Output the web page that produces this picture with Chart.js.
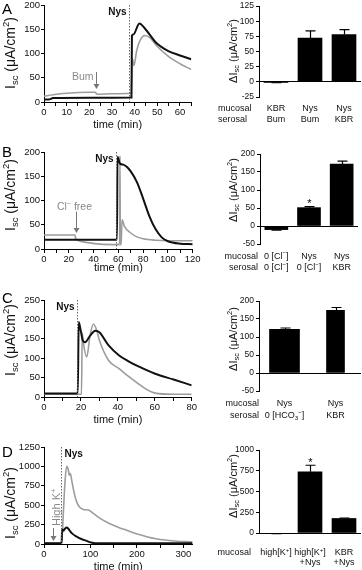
<!DOCTYPE html>
<html><head><meta charset="utf-8">
<script src="https://cdn.jsdelivr.net/npm/chart.js@4.4.0/dist/chart.umd.min.js"></script>
<style>
html,body{margin:0;padding:0;background:#fff;overflow:hidden;width:362px;height:570px}
#fig{position:relative;width:362px;height:570px;overflow:hidden}
canvas{position:absolute}
</style></head><body><div id="fig"></div>
<script>
// ================= DATA =================
// Panel A traces (time in min, Isc in uA/cm2)
const tA_black = [0, 2, 4, 20, 38.6, 38.8, 39.4, 42.1, 44.6, 49.7, 54.9, 60, 65];
const iA_black = [5, 5, 8, 9, 9.5, 137, 139, 162, 151, 121, 105, 96, 88];
const tA_gray  = [0, 4, 10, 20, 22.5, 23.5, 30, 38.5, 39, 39.7, 40.9, 42.4, 44.6, 46.8, 49.7, 54.9, 60, 65];
const iA_gray  = [12, 15, 18, 20, 20, 16, 17, 18, 89, 75, 106, 127, 137, 132, 116, 94, 79, 67];
const nysA = 37.6;
const arrowA = [22.8, 62, 27];           // time, from, to
// Panel A bars
const barA_mean = [-1, 72, 78];
const barA_sem  = [0.5, 12, 8];
const barA_mucosal = ['KBR', 'Nys', 'Nys'];
const barA_serosal = ['Bum', 'Bum', 'KBR'];

// Panel B traces
const tB_black = [0, 58.9, 59.3, 61.3, 64, 67, 70, 75, 80, 85, 90, 95, 100, 110, 120];
const iB_black = [19, 19, 190, 176, 174, 169, 160, 138, 104, 68, 41, 24, 16, 11, 10];
const tB_gray  = [0, 25, 25.5, 27.7, 34, 45, 61, 61.3, 61.6, 62.2, 63, 65, 70, 75, 80, 90, 100, 120];
const iB_gray  = [29, 29, 22.5, 17.7, 13.6, 10, 9, 192, 9, 9, 60, 46, 33, 25, 21, 18, 17, 17];
const nysB = 58;
const arrowB = [25.5, 77, 33];
// Panel B bars
const barB_mean = [-10, 51, 172];
const barB_sem  = [1.5, 3, 8];
const barB_mucosal = ['0 [Cl^{−}]', 'Nys', 'Nys'];
const barB_serosal = ['0 [Cl^{−}]', '0 [Cl^{−}]', 'KBR'];

// Panel C traces
const tC_black = [0, 18.3, 18.8, 19.9, 21, 22.2, 25, 27.7, 30, 35, 40.7, 45.8, 50.6, 60.2, 70.2, 80];
const iC_black = [9, 9, 193, 171, 146, 141, 158, 171, 167, 133, 107, 92, 80, 60, 45, 30];
const tC_gray  = [0, 20.3, 20.7, 21.3, 23.1, 25, 26.8, 28.6, 30, 35, 40.7, 45.8, 50.6, 55.7, 60.2, 70, 80];
const iC_gray  = [7, 7, 165, 140, 103, 160, 188, 171, 146, 94, 73, 53, 36, 19, 10, 7, 7];
const nysC = 17.7;
// Panel C bars
const barC_mean = [121, 174];
const barC_sem  = [4, 8];
const barC_mucosal = ['Nys', 'Nys'];
const barC_serosal = ['0 [HCO_{3}^{−}]', 'KBR'];

// Panel D traces
const tD_black = [0, 38, 38.8, 41.6, 45, 48.8, 52.4, 56, 60.3, 70.4, 80.4, 90.5, 100.5, 110, 320];
const iD_black = [9, 9, 188, 171, 197, 214, 197, 167, 137, 94, 64, 43, 21, 9, 9];
const tD_gray  = [0, 38, 41.6, 45, 48.8, 51.7, 54.6, 56.7, 60.3, 65.3, 70.4, 76, 84.7, 95.5, 106, 120.6, 140.7, 160.8, 181, 201, 221, 241, 261, 281, 301.5, 320];
const iD_gray  = [9, 10, 394, 779, 1000, 972, 886, 907, 800, 650, 543, 479, 445, 437, 394, 330, 265, 214, 171, 128, 94, 68, 51, 39, 30, 26];
const nysD = 36.6;
const arrowD = [20, 206, 39];
// Panel D bars
const barD_mean = [-6, 738, 175];
const barD_sem  = [2, 78, 6];
const barD_mucosal = ['high[K^{+}]', 'high[K^{+}]', 'KBR'];
const barD_row2    = ['', '+Nys', '+Nys'];

// Tick values
const ticksA_x = [0, 10, 20, 30, 40, 50, 60];
const ticksB_x = [0, 20, 40, 60, 80, 100, 120];
const ticksC_x = [0, 20, 40, 60, 80];
const ticksD_x = [0, 100, 200, 300];
const ticksA_y = [0, 50, 100, 150, 200];
const ticksB_y = [0, 50, 100, 150, 200];
const ticksC_y = [0, 50, 100, 150, 200, 250];
const ticksD_y = [0, 250, 500, 750, 1000, 1250];
const ticksAbar_y = [-25, 0, 25, 50, 75, 100, 125];
const ticksBbar_y = [-50, 0, 50, 100, 150, 200];
const ticksCbar_y = [-50, 0, 50, 100, 150, 200];
const ticksDbar_y = [0, 250, 500, 750, 1000];

// ================= DRAWING =================
const FONT = '"Liberation Sans", Arial, Helvetica, sans-serif';
const GRAYLINE = '#9c9c9c';
const GRAYTXT = '#8a8a8a';
Chart.defaults.font.family = FONT;
Chart.defaults.color = '#111';
const FIG = document.getElementById('fig');

function addCanvas(left, top, w, h) {
  const c = document.createElement('canvas');
  c.width = w; c.height = h;
  c.style.left = left + 'px'; c.style.top = top + 'px';
  c.style.width = w + 'px'; c.style.height = h + 'px';
  FIG.appendChild(c);
  return c;
}
function parseRich(s) {
  const out = []; const re = /([\^_])\{([^}]*)\}|([^\^_]+)/g; let m;
  while ((m = re.exec(s))) {
    if (m[3] !== undefined) out.push({t: m[3], k: 'n'});
    else out.push({t: m[2], k: m[1] === '^' ? 'sup' : 'sub'});
  }
  return out;
}
function richFont(k, size, weight) {
  const sz = k === 'n' ? size : size * 0.68;
  return (weight || 'normal') + ' ' + sz + 'px ' + FONT;
}
function drawRich(ctx, s, x, y, size, align, color, weight) {
  const segs = parseRich(s); let w = 0;
  segs.forEach(g => { ctx.font = richFont(g.k, size, weight); g.w = ctx.measureText(g.t).width; w += g.w; });
  let cx = align === 'center' ? x - w / 2 : align === 'right' ? x - w : x;
  const base = y + size * 0.35;
  ctx.fillStyle = color; ctx.textBaseline = 'alphabetic'; ctx.textAlign = 'left';
  segs.forEach(g => {
    ctx.font = richFont(g.k, size, weight);
    const dy = g.k === 'sup' ? -size * 0.4 : g.k === 'sub' ? size * 0.22 : 0;
    ctx.fillText(g.t, cx, base + dy); cx += g.w;
  });
  return w;
}
function measureRich(ctx, s, size) {
  let w = 0; parseRich(s).forEach(g => { ctx.font = richFont(g.k, size); w += ctx.measureText(g.t).width; });
  return w;
}
const toXY = (t, v) => t.map((x, i) => ({x: x, y: v[i]}));

function traceChart(p) {
  const padT = 10, top = p.T - padT, w = Math.ceil(p.R + 12), h = (p.B - p.T) + padT + p.padB;
  const cv = addCanvas(0, top, w, h);
  const allX = [];
  for (let v = 0; v <= p.xMax + 1e-9; v += p.xMinor) allX.push(Math.round(v * 1000) / 1000);
  const annot = {
    id: 'annot' + p.letter,
    afterDraw(chart) {
      const ctx = chart.ctx, xs = chart.scales.x, ys = chart.scales.y, ca = chart.chartArea;
      ctx.save();
      ctx.fillStyle = '#000'; ctx.font = '15px ' + FONT; ctx.textBaseline = 'middle'; ctx.textAlign = 'left';
      ctx.fillText(p.letter, 2, p.letterY - top);
      ctx.save(); ctx.translate(10, p.titleY - top); ctx.rotate(-Math.PI / 2);
      drawRich(ctx, 'I_{sc} (μA/cm^{2})', 0, 0, 14, 'center', '#111'); ctx.restore();
      // Nys dotted line
      const nx = Math.round(xs.getPixelForValue(p.nys)) + 0.5;
      ctx.strokeStyle = '#6a6a6a'; ctx.lineWidth = 1; ctx.setLineDash([1.5, 1.5]);
      ctx.beginPath(); ctx.moveTo(nx, ca.top); ctx.lineTo(nx, ca.bottom); ctx.stroke(); ctx.setLineDash([]);
      ctx.font = 'bold 10px ' + FONT; ctx.fillStyle = '#111'; ctx.textBaseline = 'middle';
      if (p.nysSide === 'left') { ctx.textAlign = 'right'; ctx.fillText('Nys', nx - 3, ca.top + 7); }
      else { ctx.textAlign = 'left'; ctx.fillText('Nys', nx + 3, ca.top + 7); }
      // arrow
      if (p.arrow) {
        const ax = Math.round(xs.getPixelForValue(p.arrow[0])) + 0.5;
        const y1 = ys.getPixelForValue(p.arrow[1]), y2 = ys.getPixelForValue(p.arrow[2]);
        ctx.strokeStyle = '#777'; ctx.fillStyle = '#777'; ctx.lineWidth = 1;
        ctx.beginPath(); ctx.moveTo(ax, y1); ctx.lineTo(ax, y2 - 4); ctx.stroke();
        ctx.beginPath(); ctx.moveTo(ax - 3, y2 - 5); ctx.lineTo(ax + 3, y2 - 5); ctx.lineTo(ax, y2); ctx.closePath(); ctx.fill();
        if (p.arrowMode === 'left') drawRich(ctx, p.arrowText, ax - 3, y1 + 4, 10.5, 'right', GRAYTXT);
        else if (p.arrowMode === 'above') drawRich(ctx, p.arrowText, ax - 2, y1 - 5, 10.5, 'center', GRAYTXT);
        else {
          const tw = measureRich(ctx, p.arrowText, 11);
          ctx.save(); ctx.translate(ax + 3, y1 - 2 - tw / 2); ctx.rotate(-Math.PI / 2);
          drawRich(ctx, p.arrowText, 0, 0, 11, 'center', GRAYTXT); ctx.restore();
        }
      }
      ctx.restore();
    }
  };
  new Chart(cv, {
    type: 'line',
    data: {datasets: [
      {data: toXY(p.black[0], p.black[1]), borderColor: '#111', borderWidth: 2, pointRadius: 0, cubicInterpolationMode: 'monotone', fill: false},
      {data: toXY(p.gray[0], p.gray[1]), borderColor: GRAYLINE, borderWidth: 1.6, pointRadius: 0, cubicInterpolationMode: 'monotone', fill: false}
    ]},
    options: {
      responsive: false, animation: false, devicePixelRatio: 1, events: [],
      layout: {padding: {left: 0, top: padT, right: w - p.R, bottom: 0}},
      plugins: {legend: {display: false}, tooltip: {enabled: false}},
      scales: {
        x: {type: 'linear', min: 0, max: p.xMax,
          afterBuildTicks: s => { s.ticks = allX.map(v => ({value: v})); },
          afterFit: s => { s.height = p.padB; },
          border: {display: true, color: '#000', width: 1},
          grid: {display: true, drawOnChartArea: false, drawTicks: true, tickLength: 4, tickColor: '#000', tickWidth: 1},
          ticks: {autoSkip: false, maxRotation: 0, padding: 1, font: {size: 9.5}, color: '#111',
            callback: v => p.xMajor.includes(v) ? String(v) : ''},
          title: {display: true, text: 'time (min)', font: {size: 11}, color: '#111', padding: {top: 0, bottom: 2}}
        },
        y: {type: 'linear', min: 0, max: p.yTicks[p.yTicks.length - 1],
          afterBuildTicks: s => { s.ticks = p.yTicks.map(v => ({value: v})); },
          afterFit: s => { s.width = p.L; },
          border: {display: true, color: '#000', width: 1},
          grid: {display: true, drawOnChartArea: false, drawTicks: true, tickLength: 3, tickColor: '#000', tickWidth: 1},
          ticks: {autoSkip: false, padding: 1, font: {size: 9.5}, color: '#111', callback: v => String(v)}
        }
      }
    },
    plugins: [annot]
  });
}

function barChart(p) {
  const left = 205, padT = 10, top = p.T - padT, w = 362 - left, h = (p.B - p.T) + padT + p.padB;
  const cv = addCanvas(left, top, w, h);
  const n = p.mean.length;
  const labels = p.mean.map((_, i) => String(i));
  const datasets = p.thick.map((th, j) => ({
    data: p.mean.map((v, i) => (p.thick.length === 1 || i === j) ? v : null),
    backgroundColor: '#000', borderWidth: 0, barThickness: th, clip: 6
  }));
  const annot = {
    id: 'bar' + p.letter,
    afterDraw(chart) {
      const ctx = chart.ctx, xs = chart.scales.x, ys = chart.scales.y, ca = chart.chartArea;
      ctx.save();
      ctx.save(); ctx.translate(233 - left, p.titleY - top); ctx.rotate(-Math.PI / 2);
      drawRich(ctx, 'ΔI_{sc} (μA/cm^{2})', 0, 0, 11, 'center', '#111'); ctx.restore();
      // error bars
      ctx.strokeStyle = '#000'; ctx.lineWidth = 1.2;
      for (let i = 0; i < n; i++) {
        const x = Math.round(xs.getPixelForValue(i)) + 0.5;
        const m = p.mean[i], e = m >= 0 ? m + p.sem[i] : m - p.sem[i];
        const y0 = ys.getPixelForValue(m), y1 = ys.getPixelForValue(e);
        ctx.beginPath(); ctx.moveTo(x, y0); ctx.lineTo(x, y1); ctx.moveTo(x - 5, y1); ctx.lineTo(x + 5, y1); ctx.stroke();
        if (p.stars.includes(i)) {
          ctx.fillStyle = '#000'; ctx.font = '11px ' + FONT; ctx.textAlign = 'center'; ctx.textBaseline = 'alphabetic';
          ctx.fillText('*', x, y1 + 0.5);
        }
      }
      // category labels
      p.rows.forEach(r => {
        const y = ca.bottom + r.dy;
        if (r.label) drawRich(ctx, r.label, p.rowX - left, y, 9, p.rowAlign, '#111');
        for (let i = 0; i < n; i++) if (r.items[i]) drawRich(ctx, r.items[i], xs.getPixelForValue(i), y, 9, 'center', '#111');
      });
      ctx.restore();
    }
  };
  new Chart(cv, {
    type: 'bar',
    data: {labels: labels, datasets: datasets},
    options: {
      responsive: false, animation: false, devicePixelRatio: 1, events: [],
      layout: {padding: {left: 0, top: padT, right: 362 - p.R, bottom: p.padB}},
      plugins: {legend: {display: false}, tooltip: {enabled: false}},
      scales: {
        x: {display: false, stacked: true},
        y: {stacked: true, min: p.yTicks[0], max: p.yTicks[p.yTicks.length - 1],
          afterBuildTicks: s => { s.ticks = p.yTicks.map(v => ({value: v})); },
          afterFit: s => { s.width = p.L - left; },
          border: {display: true, color: '#000', width: 1},
          grid: {display: true, drawOnChartArea: true, drawTicks: true, tickLength: 3, tickColor: '#000', lineWidth: 1,
            color: c => (c.tick && c.tick.value === 0) ? '#000' : 'rgba(0,0,0,0)'},
          ticks: {autoSkip: false, padding: 2, font: {size: 8.5}, color: '#111', callback: v => String(v)}
        }
      }
    },
    plugins: [annot]
  });
}

// ----- Panels -----
traceChart({letter: 'A', letterY: 10, titleY: 53, L: 44, R: 191.3, T: 5, B: 102, padB: 32,
  xMax: 65, xMinor: 5, xMajor: ticksA_x, yTicks: ticksA_y,
  black: [tA_black, iA_black], gray: [tA_gray, iA_gray], nys: nysA, nysSide: 'left',
  arrow: arrowA, arrowMode: 'left', arrowText: 'Bum'});
traceChart({letter: 'B', letterY: 153, titleY: 195, L: 44, R: 192.7, T: 152, B: 249, padB: 28,
  xMax: 120, xMinor: 10, xMajor: ticksB_x, yTicks: ticksB_y,
  black: [tB_black, iB_black], gray: [tB_gray, iB_gray], nys: nysB, nysSide: 'left',
  arrow: arrowB, arrowMode: 'above', arrowText: 'Cl^{−} free'});
traceChart({letter: 'C', letterY: 299, titleY: 340, L: 44, R: 191.7, T: 300, B: 397, padB: 32,
  xMax: 80, xMinor: 10, xMajor: ticksC_x, yTicks: ticksC_y,
  black: [tC_black, iC_black], gray: [tC_gray, iC_gray], nys: nysC, nysSide: 'left'});
traceChart({letter: 'D', letterY: 453, titleY: 503, L: 44, R: 192.6, T: 447, B: 544, padB: 32,
  xMax: 320, xMinor: 50, xMajor: ticksD_x, yTicks: ticksD_y,
  black: [tD_black, iD_black], gray: [tD_gray, iD_gray], nys: nysD, nysSide: 'right',
  arrow: arrowD, arrowMode: 'rot', arrowText: 'High K^{+}'});

barChart({letter: 'A', titleY: 51, L: 259, R: 361, T: 6, B: 97, padB: 30, yTicks: ticksAbar_y,
  mean: barA_mean, sem: barA_sem, thick: [24], stars: [], rowAlign: 'left', rowX: 218,
  rows: [{label: 'mucosal', items: barA_mucosal, dy: 11.3}, {label: 'serosal', items: barA_serosal, dy: 21.5}]});
barChart({letter: 'B', titleY: 190, L: 260, R: 358, T: 154, B: 244, padB: 30, yTicks: ticksBbar_y,
  mean: barB_mean, sem: barB_sem, thick: [23], stars: [1], rowAlign: 'right', rowX: 258,
  rows: [{label: 'mucosal', items: barB_mucosal, dy: 11.7}, {label: 'serosal', items: barB_serosal, dy: 23.3}]});
barChart({letter: 'C', titleY: 339, L: 259, R: 361, T: 301, B: 391, padB: 32, yTicks: ticksCbar_y,
  mean: barC_mean, sem: barC_sem, thick: [30, 18], stars: [], rowAlign: 'right', rowX: 259,
  rows: [{label: 'mucosal', items: barC_mucosal, dy: 12.3}, {label: 'serosal', items: barC_serosal, dy: 24}]});
barChart({letter: 'D', titleY: 486, L: 259, R: 361, T: 450, B: 533, padB: 37, yTicks: ticksDbar_y,
  mean: barD_mean, sem: barD_sem, thick: [24], stars: [1], rowAlign: 'right', rowX: 251,
  rows: [{label: 'mucosal', items: barD_mucosal, dy: 19}, {label: '', items: barD_row2, dy: 29}]});
</script>
</body></html>
